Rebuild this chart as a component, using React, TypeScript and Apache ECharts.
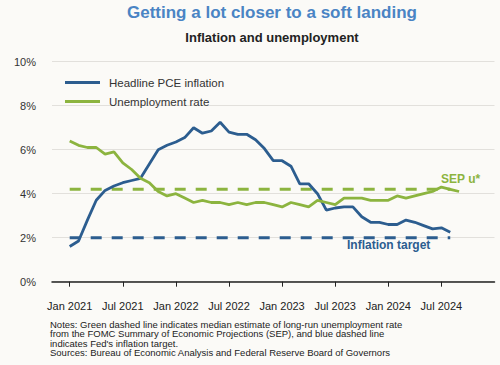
import React, { useEffect, useRef } from "react";
import * as echarts from "echarts";

const MONTH_NAMES = ["Jan", "Feb", "Mar", "Apr", "May", "Jun", "Jul", "Aug", "Sep", "Oct", "Nov", "Dec"];
// Axis runs monthly from Nov 2020 to Jan 2025
const AXIS_START_YEAR = 2020;
const AXIS_START_MONTH = 10; // Nov (0-based)
const AXIS_MONTH_COUNT = 51;
const categories: string[] = Array.from({ length: AXIS_MONTH_COUNT }, (_, i) => {
  const m = (AXIS_START_MONTH + i) % 12;
  const y = AXIS_START_YEAR + Math.floor((AXIS_START_MONTH + i) / 12);
  return `${MONTH_NAMES[m]} ${y}`;
});
const tickLabels = [
  "Jan 2021", "Jul 2021", "Jan 2022", "Jul 2022", "Jan 2023", "Jul 2023", "Jan 2024", "Jul 2024",
];

// Headline PCE inflation, % y/y, Jan 2021 - Aug 2024
const inflation = [
  1.6, 1.85, 2.8, 3.7, 4.15, 4.35, 4.5, 4.6, 4.7, 5.35, 6.0, 6.2,
  6.35, 6.55, 7.0, 6.75, 6.85, 7.25, 6.8, 6.7, 6.7, 6.45, 6.05, 5.5,
  5.5, 5.25, 4.45, 4.45, 4.0, 3.25, 3.35, 3.4, 3.4, 2.95, 2.7, 2.7,
  2.6, 2.6, 2.8, 2.7, 2.55, 2.4, 2.45, 2.25,
];
// Unemployment rate, %, Jan 2021 - Sep 2024
const unemployment = [
  6.4, 6.2, 6.1, 6.1, 5.8, 5.9, 5.4, 5.1, 4.7, 4.5, 4.1, 3.9,
  4.0, 3.8, 3.6, 3.7, 3.6, 3.6, 3.5, 3.6, 3.5, 3.6, 3.6, 3.5,
  3.4, 3.6, 3.5, 3.4, 3.7, 3.6, 3.5, 3.8, 3.8, 3.8, 3.7, 3.7,
  3.7, 3.9, 3.8, 3.9, 4.0, 4.1, 4.3, 4.2, 4.1,
];
const SERIES_START = "Jan 2021";
const REF_END = "Aug 2024";
const SEP_U_STAR = 4.2;
const INFLATION_TARGET = 2.0;

const yTicks = { min: 0, max: 10, interval: 2 };

const notes = [
  "Notes: Green dashed line indicates median estimate of long-run unemployment rate",
  "from the FOMC Summary of Economic Projections (SEP), and blue dashed line",
  "indicates Fed's inflation target.",
  "Sources: Bureau of Economic Analysis and Federal Reserve Board of Governors",
];

const BLUE = "#2c5d8f";
const GREEN = "#8cb43f";
const FONT = "'Liberation Sans', Arial, sans-serif";

export default function App() {
  const ref = useRef<HTMLDivElement>(null);
  useEffect(() => {
    if (!ref.current) return;
    const chart = echarts.init(ref.current, null, { renderer: "svg" });
    const startIdx = categories.indexOf(SERIES_START);
    const endIdx = categories.indexOf(REF_END);
    const pad = (arr: number[]) => categories.map((_, i) =>
      i >= startIdx && i - startIdx < arr.length ? arr[i - startIdx] : "-");
    const flat = (v: number) => categories.map((_, i) => (i >= startIdx && i <= endIdx ? v : "-"));
    const showTick = (_: number, v: string) => tickLabels.includes(v);

    chart.setOption({
      animation: false,
      backgroundColor: "#fbfaf7",
      textStyle: { fontFamily: FONT },
      grid: { left: 52, right: 5.5, top: 61.7, bottom: 83.3, containLabel: false },
      legend: {
        data: ["Headline PCE inflation", "Unemployment rate"],
        orient: "vertical",
        left: 60,
        top: 71,
        icon: "rect",
        itemWidth: 35,
        itemHeight: 3,
        itemGap: 6,
        textStyle: { fontSize: 11.5, color: "#333", fontFamily: FONT, padding: [0, 0, 0, 4], lineHeight: 13 },
      },
      xAxis: {
        type: "category",
        data: categories,
        boundaryGap: false,
        offset: 11,
        axisLine: { lineStyle: { color: "#222", width: 1.5 } },
        axisTick: { interval: showTick, length: 5, lineStyle: { color: "#222", width: 1 } },
        axisLabel: { interval: showTick, fontSize: 11, color: "#222", margin: 8, fontFamily: FONT },
        splitLine: { show: false },
      },
      yAxis: {
        type: "value",
        min: yTicks.min,
        max: yTicks.max,
        interval: yTicks.interval,
        axisLine: { show: false },
        axisTick: { show: false },
        axisLabel: { formatter: "{value}%", fontSize: 11, color: "#333", margin: 16, fontFamily: FONT },
        splitLine: { lineStyle: { color: "#e2e0dc", width: 1 } },
      },
      series: [
        {
          name: "SEP u*",
          type: "line",
          data: flat(SEP_U_STAR),
          symbol: "none",
          lineStyle: { color: GREEN, width: 3, type: [11, 10] },
          z: 1,
        },
        {
          name: "Inflation target",
          type: "line",
          data: flat(INFLATION_TARGET),
          symbol: "none",
          lineStyle: { color: BLUE, width: 3, type: [11, 10] },
          z: 1,
        },
        {
          name: "Headline PCE inflation",
          type: "line",
          data: pad(inflation),
          symbol: "none",
          color: BLUE,
          lineStyle: { color: BLUE, width: 2.8 },
          z: 3,
        },
        {
          name: "Unemployment rate",
          type: "line",
          data: pad(unemployment),
          symbol: "none",
          color: GREEN,
          lineStyle: { color: GREEN, width: 2.8 },
          z: 3,
        },
      ],
      graphic: [
        {
          type: "text", x: 272, y: 12,
          style: { text: "Getting a lot closer to a soft landing", fill: "#4a84c4", font: `bold 17px ${FONT}`, textAlign: "center", textVerticalAlign: "middle" },
        },
        {
          type: "text", x: 272, y: 37.5,
          style: { text: "Inflation and unemployment", fill: "#222", font: `bold 13px ${FONT}`, textAlign: "center", textVerticalAlign: "middle" },
        },
        {
          type: "text", x: 441, y: 179,
          style: { text: "SEP u*", fill: GREEN, font: `bold 12px ${FONT}`, textAlign: "left", textVerticalAlign: "middle" },
        },
        {
          type: "text", x: 347, y: 245,
          style: { text: "Inflation target", fill: BLUE, font: `bold 12px ${FONT}`, textAlign: "left", textVerticalAlign: "middle" },
        },
        ...notes.map((line, i) => ({
          type: "text", x: 50, y: 324 + i * 9.5,
          style: { text: line, fill: "#222", font: `9.5px ${FONT}`, textAlign: "left", textVerticalAlign: "middle" },
        })),
      ],
    });
    return () => chart.dispose();
  }, []);
  return (
    <div
      ref={ref}
      style={{ position: "absolute", left: 0, top: 0, width: 500, height: 365, background: "#fbfaf7" }}
    />
  );
}
